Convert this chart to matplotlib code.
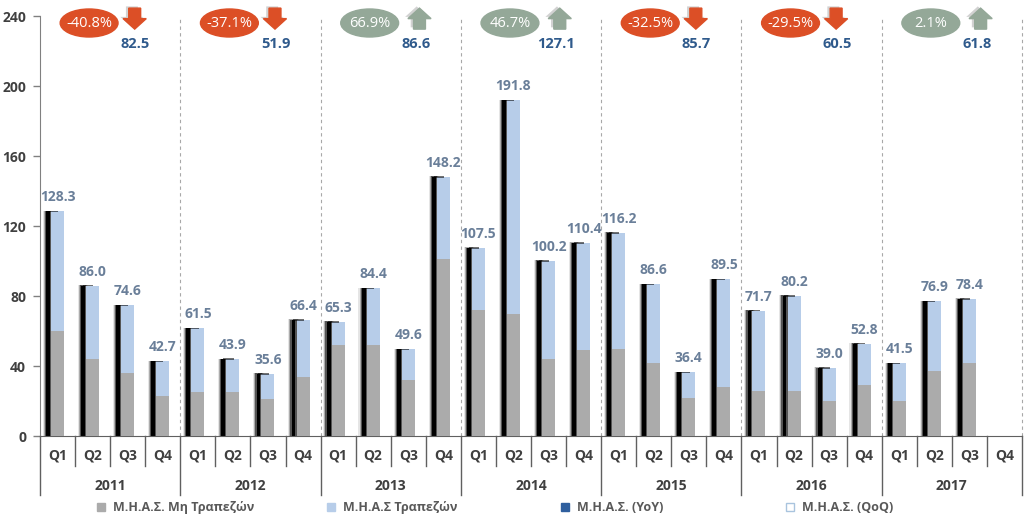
import matplotlib
matplotlib.use("Agg")
import matplotlib.pyplot as plt
from matplotlib.patches import Ellipse, Polygon, Rectangle

plt.rcParams['font.family'] = ['Open Sans', 'DejaVu Sans']

years = ['2011', '2012', '2013', '2014', '2015', '2016', '2017']
quarters = ['Q1', 'Q2', 'Q3', 'Q4']
totals = [128.3, 86.0, 74.6, 42.7, 61.5, 43.9, 35.6, 66.4, 65.3, 84.4, 49.6,
          148.2, 107.5, 191.8, 100.2, 110.4, 116.2, 86.6, 36.4, 89.5, 71.7,
          80.2, 39.0, 52.8, 41.5, 76.9, 78.4]
non_banks = [60, 44, 36, 23, 25, 25, 21, 34, 52, 52, 32, 101, 72, 70, 44, 49,
             50, 42, 22, 28, 26, 26, 20, 29, 20, 37, 42]
yoy_change = ['-40.8%', '-37.1%', '66.9%', '46.7%', '-32.5%', '-29.5%', '2.1%']
yoy_up = [False, False, True, True, False, False, True]
yoy_value = ['82.5', '51.9', '86.6', '127.1', '85.7', '60.5', '61.8']
yticks = [0, 40, 80, 120, 160, 200, 240]
legend_labels = ['Μ.Η.Α.Σ. Μη Τραπεζών', 'Μ.Η.Α.Σ Τραπεζών',
                 'Μ.Η.Α.Σ. (YoY)', 'Μ.Η.Α.Σ. (QoQ)']

GREY = '#ababab'
BLUE = '#b7cde9'
RED = '#dc4f26'
GREEN = '#94a898'
TEXT = '#404040'


def arrow_points(x, up):
    """Contour d'une fleche verticale centree sur x"""
    if up:
        return [(x - 0.17, 232.5), (x - 0.17, 238.5), (x - 0.33, 238.5),
                (x, 244.5), (x + 0.33, 238.5), (x + 0.17, 238.5),
                (x + 0.17, 232.5)]
    return [(x - 0.17, 244.5), (x - 0.17, 238.5), (x - 0.33, 238.5),
            (x, 232.5), (x + 0.33, 238.5), (x + 0.17, 238.5),
            (x + 0.17, 244.5)]


fig = plt.figure(figsize=(10.24, 5.28), dpi=100)
ax = fig.add_axes([40 / 1024, 1 - 436 / 528, 982 / 1024, 420 / 528])
ax.set_xlim(0, 28)
ax.set_ylim(0, 240)

# the black bar has a soft edge in the original
for i, total in enumerate(totals):
    x = i + 0.5
    for w, a in [(0.3, 0.1), (0.24, 0.25), (0.18, 0.5), (0.11, 1)]:
        ax.bar(x - 0.27, total + (w - 0.11) * 2, width=w, color='#000000',
               alpha=a, linewidth=0, zorder=2)
    ax.bar(x, non_banks[i], width=0.37, color=GREY, linewidth=0, zorder=3)
    ax.bar(x, total - non_banks[i], bottom=non_banks[i], width=0.37,
           color=BLUE, linewidth=0, zorder=3)
    # small dark hook over the top of the blue part
    ax.bar(x - 0.13, 0.9, bottom=total - 0.5, width=0.3, color='#000000',
           alpha=0.55, linewidth=0, zorder=4)
    ax.text(x, total + 4, f"{total:.1f}", ha='center', va='bottom',
            fontsize=10, fontweight='bold', color='#6a7f99', zorder=5)

# separators between years
for i in range(1, 8):
    ax.plot([4 * i, 4 * i], [0, 240], color='#a8a8a8', lw=0.8,
            linestyle=(0, (3, 3)), zorder=1, clip_on=False)

# yearly change on top of each group
for i, year in enumerate(years):
    color = GREEN if yoy_up[i] else RED
    cx = 4 * i + 1.4
    arrow_x = 4 * i + (2.82 if yoy_up[i] else 2.7)
    ax.add_patch(Ellipse((cx, 236), 1.65, 16, color=color, zorder=6,
                         clip_on=False))
    ax.text(cx, 235.5, yoy_change[i], color='white', fontsize=10.5,
            ha='center', va='center', zorder=7, clip_on=False)
    ax.text(4 * i + 2.72, 224, yoy_value[i], color='#2f5a8c', fontsize=10.5,
            fontweight='bold', ha='center', va='center', clip_on=False)
    # grey shadow, up and to the left of the arrow
    shadow = [(px - 0.08, py + 1) for px, py in arrow_points(arrow_x, yoy_up[i])]
    ax.add_patch(Polygon(shadow, closed=True, facecolor='#808080', alpha=0.35,
                         linewidth=0, zorder=5, clip_on=False))
    ax.add_patch(Polygon(arrow_points(arrow_x, yoy_up[i]), closed=True,
                         color=color, zorder=6, clip_on=False))

ax.set_yticks(yticks)
ax.set_xticks([])
ax.tick_params(axis='y', length=5, width=1, pad=5, color='#808080',
               labelcolor=TEXT, labelsize=10)
for label in ax.get_yticklabels():
    label.set_fontweight('bold')
for side in ['top', 'right']:
    ax.spines[side].set_visible(False)
ax.spines['left'].set_color('#808080')
ax.spines['bottom'].set_color('#606060')

# two level category axis, below the plot
trans = ax.get_xaxis_transform()
for i in range(29):
    depth = -0.14 if i % 4 == 0 else -0.072
    ax.plot([i, i], [0, depth], transform=trans, color='#606060', lw=1,
            clip_on=False)
    if i < 28:
        ax.text(i + 0.5, -0.047, quarters[i % 4], transform=trans, ha='center',
                va='center', fontsize=10, fontweight='bold', color=TEXT)
for i, year in enumerate(years):
    ax.text(4 * i + 2, -0.12, year, transform=trans, ha='center', va='center',
            fontsize=10, fontweight='bold', color=TEXT)

# legend is placed by hand to keep the wide spacing
legend_x = [97, 327, 561, 786]
faces = [GREY, BLUE, '#2f5f9e', 'white']
edges = [GREY, BLUE, '#2f5f9e', '#a9c4de']
for lx, face, edge, label in zip(legend_x, faces, edges, legend_labels):
    fig.add_artist(Rectangle((lx / 1024, 1 - 511 / 528), 8 / 1024, 8 / 528,
                             facecolor=face, edgecolor=edge, linewidth=1,
                             transform=fig.transFigure))
    fig.text((lx + 16) / 1024, 1 - 507.5 / 528, label, ha='left', va='center',
             fontsize=9, fontweight='bold', color='#595959')

fig.savefig("out.png", dpi=100)
